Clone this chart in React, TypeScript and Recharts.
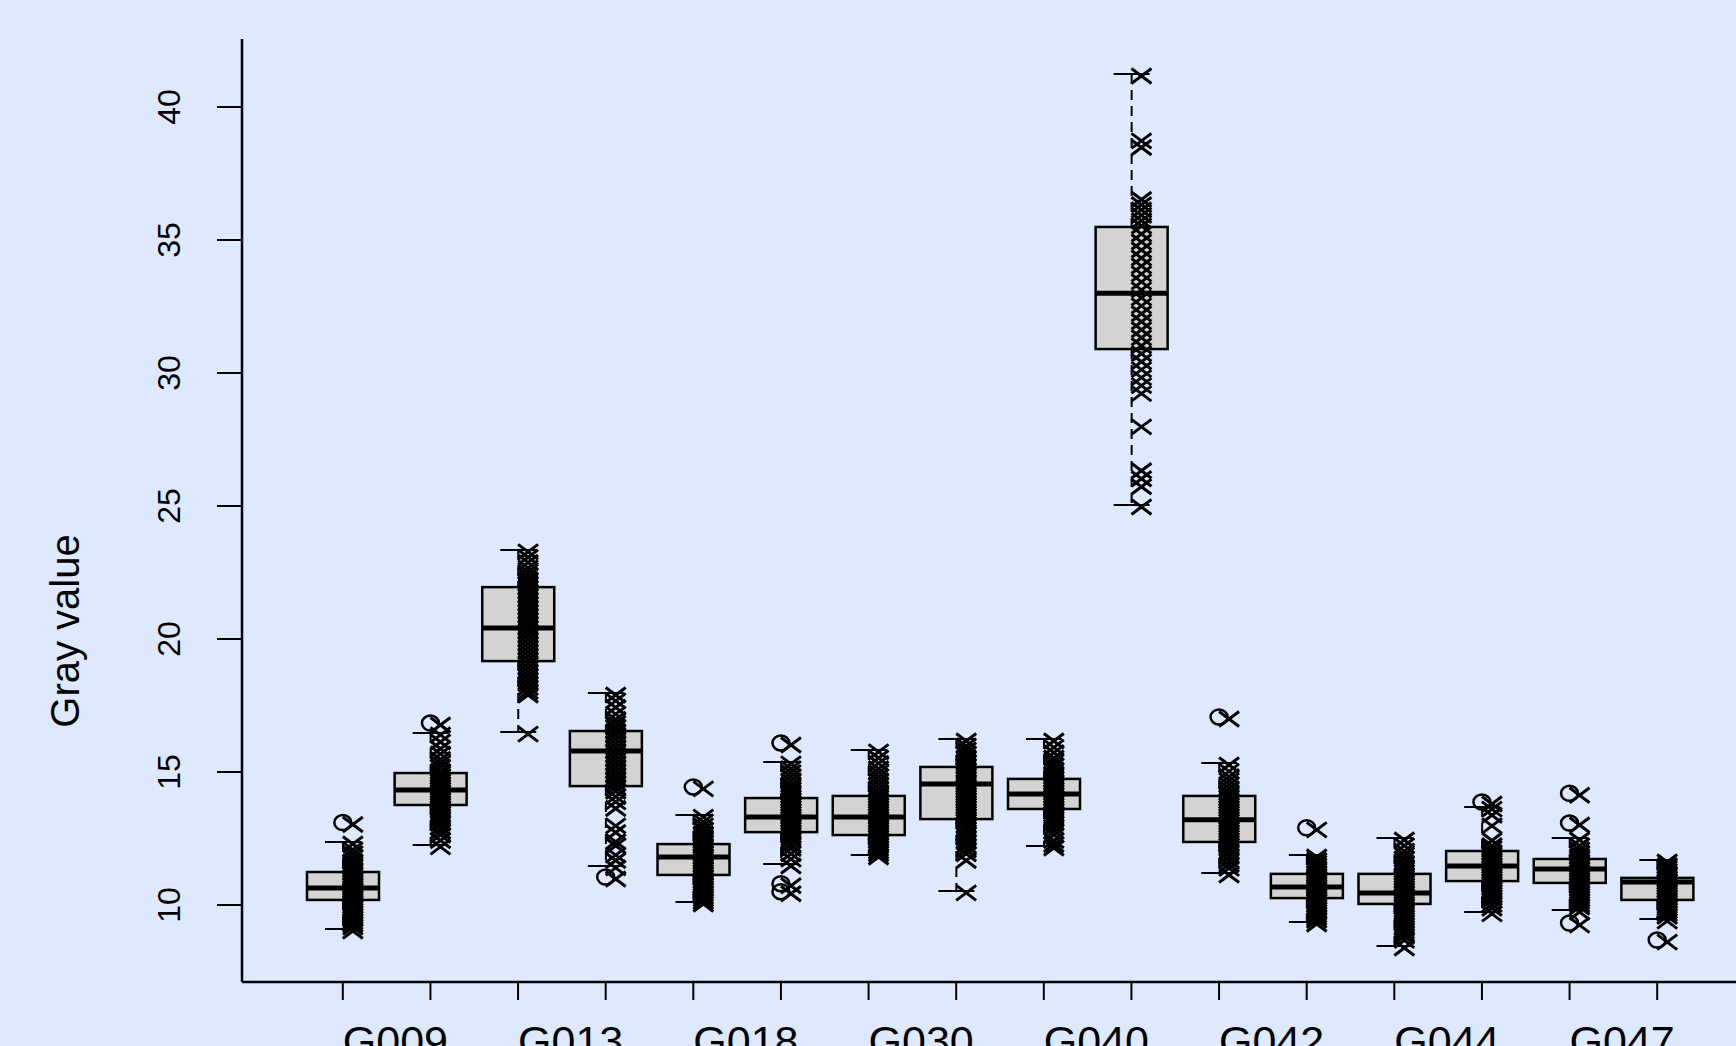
import { ComposedChart, Bar, Scatter, XAxis, YAxis } from "recharts";

// groups in plotting order (only every other name is printed on the axis)
const groups = [
  "G009", "G010", "G013", "G014", "G018", "G019", "G030", "G031",
  "G040", "G041", "G042", "G043", "G044", "G045", "G047", "G048",
];
const shownLabels = ["G009", "G013", "G018", "G030", "G040", "G042", "G044", "G047"];

// box statistics
const whiskerLow = [9.1, 12.26, 16.5, 11.47, 10.11, 11.54, 11.88, 10.53, 12.22, 25.04, 11.2, 9.36, 8.46, 9.74, 9.81, 9.47];
const lowerQuartile = [10.19, 13.76, 19.17, 14.47, 11.13, 12.74, 12.63, 13.23, 13.61, 30.9, 12.37, 10.26, 10.04, 10.9, 10.83, 10.19];
const medians = [10.64, 14.32, 20.41, 15.79, 11.8, 13.31, 13.31, 14.55, 14.17, 33.0, 13.2, 10.68, 10.45, 11.47, 11.35, 10.86];
const upperQuartile = [11.24, 14.96, 21.95, 16.54, 12.29, 14.02, 14.1, 15.19, 14.74, 35.49, 14.1, 11.17, 11.17, 12.03, 11.73, 11.02];
const whiskerHigh = [12.37, 16.47, 23.35, 17.97, 13.38, 15.38, 15.83, 16.24, 16.24, 41.24, 15.34, 11.88, 12.52, 13.68, 12.52, 11.69];

// outliers drawn by the boxplot (open circles)
const outliers: number[][] = [
  [13.1], [16.84], [], [11.05], [14.44], [16.09, 10.8, 10.5], [], [],
  [], [], [17.07], [12.9], [], [13.87], [14.2, 13.08, 9.32], [8.68],
];

// individual measurements (x markers)
const points: number[][] = [
  [13.1, 12.37, 12.15, 12.0, 11.85, 11.7, 11.6, 11.5, 11.4, 11.3, 11.2, 11.1, 11.0, 10.9, 10.8, 10.7, 10.62, 10.55, 10.45, 10.35, 10.25, 10.15, 10.05, 9.95, 9.85, 9.75, 9.65, 9.55, 9.45, 9.35, 9.25, 9.1],
  [16.84, 16.47, 16.2, 15.95, 15.75, 15.55, 15.4, 15.25, 15.1, 15.0, 14.9, 14.8, 14.7, 14.6, 14.5, 14.4, 14.3, 14.2, 14.1, 14.0, 13.9, 13.8, 13.7, 13.6, 13.5, 13.4, 13.3, 13.15, 13.0, 12.85, 12.7, 12.5, 12.26],
  [23.35, 23.15, 22.95, 22.75, 22.6, 22.45, 22.3, 22.15, 22.0, 21.85, 21.7, 21.55, 21.4, 21.25, 21.1, 20.95, 20.8, 20.65, 20.5, 20.35, 20.2, 20.05, 19.9, 19.75, 19.6, 19.45, 19.3, 19.15, 19.0, 18.85, 18.7, 18.55, 18.4, 18.25, 18.1, 17.97, 16.5],
  [17.97, 17.75, 17.5, 17.25, 17.05, 16.9, 16.75, 16.6, 16.45, 16.3, 16.15, 16.0, 15.85, 15.7, 15.55, 15.4, 15.25, 15.1, 14.95, 14.8, 14.65, 14.5, 14.35, 14.15, 13.95, 13.7, 13.05, 12.8, 12.45, 12.3, 11.95, 11.75, 11.47, 11.05],
  [14.44, 13.38, 13.2, 13.05, 12.9, 12.75, 12.6, 12.5, 12.4, 12.3, 12.2, 12.1, 12.0, 11.9, 11.8, 11.7, 11.6, 11.5, 11.4, 11.3, 11.2, 11.1, 11.0, 10.9, 10.8, 10.7, 10.6, 10.5, 10.4, 10.3, 10.2, 10.11],
  [16.09, 15.38, 15.2, 15.05, 14.9, 14.75, 14.6, 14.5, 14.4, 14.3, 14.2, 14.1, 14.0, 13.9, 13.8, 13.7, 13.6, 13.5, 13.4, 13.3, 13.2, 13.1, 13.0, 12.9, 12.8, 12.7, 12.6, 12.5, 12.35, 12.2, 12.0, 11.8, 11.54, 10.8, 10.5],
  [15.83, 15.6, 15.4, 15.2, 15.05, 14.9, 14.75, 14.6, 14.45, 14.3, 14.2, 14.1, 14.0, 13.9, 13.8, 13.7, 13.6, 13.5, 13.4, 13.3, 13.2, 13.1, 13.0, 12.9, 12.8, 12.7, 12.6, 12.5, 12.4, 12.3, 12.2, 12.1, 12.0, 11.88],
  [16.24, 16.05, 15.9, 15.75, 15.6, 15.45, 15.3, 15.15, 15.0, 14.9, 14.8, 14.7, 14.6, 14.5, 14.4, 14.3, 14.2, 14.1, 14.0, 13.9, 13.8, 13.7, 13.6, 13.5, 13.4, 13.3, 13.2, 13.05, 12.9, 12.75, 12.6, 12.45, 12.3, 12.15, 12.0, 11.75, 10.53],
  [16.24, 16.0, 15.8, 15.6, 15.45, 15.3, 15.15, 15.0, 14.9, 14.8, 14.7, 14.6, 14.5, 14.4, 14.3, 14.2, 14.1, 14.0, 13.9, 13.8, 13.7, 13.6, 13.5, 13.4, 13.3, 13.15, 13.0, 12.85, 12.7, 12.5, 12.35, 12.22],
  [41.24, 38.8, 38.55, 36.6, 36.4, 36.2, 36.0, 35.8, 35.6, 35.3, 35.0, 34.7, 34.4, 34.1, 33.8, 33.5, 33.2, 32.9, 32.6, 32.3, 32.0, 31.7, 31.4, 31.1, 30.8, 30.5, 30.2, 29.9, 29.6, 29.3, 28.05, 26.4, 26.1, 25.8, 25.04],
  [17.07, 15.34, 15.1, 14.9, 14.75, 14.6, 14.45, 14.3, 14.2, 14.1, 14.0, 13.9, 13.8, 13.7, 13.6, 13.5, 13.4, 13.3, 13.2, 13.1, 13.0, 12.9, 12.8, 12.7, 12.6, 12.5, 12.4, 12.3, 12.2, 12.05, 11.9, 11.75, 11.6, 11.45, 11.2],
  [12.9, 11.88, 11.75, 11.65, 11.55, 11.45, 11.35, 11.25, 11.15, 11.05, 10.95, 10.85, 10.75, 10.68, 10.6, 10.5, 10.4, 10.3, 10.2, 10.1, 10.0, 9.9, 9.8, 9.7, 9.6, 9.5, 9.36],
  [12.52, 12.3, 12.1, 11.95, 11.8, 11.65, 11.5, 11.4, 11.3, 11.2, 11.1, 11.0, 10.9, 10.8, 10.7, 10.6, 10.5, 10.4, 10.3, 10.2, 10.1, 10.0, 9.9, 9.8, 9.7, 9.6, 9.5, 9.4, 9.3, 9.2, 9.1, 9.0, 8.9, 8.75, 8.46],
  [13.87, 13.68, 13.45, 13.05, 12.5, 12.3, 12.2, 12.05, 11.95, 11.85, 11.75, 11.65, 11.55, 11.45, 11.35, 11.25, 11.15, 11.05, 10.95, 10.85, 10.75, 10.65, 10.55, 10.45, 10.35, 10.25, 10.1, 9.95, 9.74],
  [14.2, 13.08, 12.52, 12.3, 12.15, 12.0, 11.9, 11.8, 11.7, 11.6, 11.5, 11.4, 11.3, 11.2, 11.1, 11.0, 10.9, 10.8, 10.7, 10.6, 10.5, 10.4, 10.3, 10.2, 10.1, 10.0, 9.81, 9.32],
  [11.69, 11.55, 11.45, 11.35, 11.25, 11.15, 11.05, 10.95, 10.85, 10.75, 10.65, 10.55, 10.45, 10.35, 10.25, 10.15, 10.05, 9.95, 9.85, 9.75, 9.65, 9.47, 8.68],
];

const yTicks = [10, 15, 20, 25, 30, 35, 40];

const boxData = groups.map((name, i) => ({
  name,
  range: [whiskerLow[i], whiskerHigh[i]],
  lo: whiskerLow[i],
  q1: lowerQuartile[i],
  med: medians[i],
  q3: upperQuartile[i],
  hi: whiskerHigh[i],
}));
const pointData = groups.flatMap((name, i) => points[i].map((value) => ({ name, value })));
const outlierData = groups.flatMap((name, i) => outliers[i].map((value) => ({ name, value })));

const FONT = "'Liberation Sans', Arial, Helvetica, sans-serif";

function BoxShape(props: any) {
  const { x, y, width, height, payload } = props;
  const top = Math.min(y, y + height);
  const bottom = Math.max(y, y + height);
  const { lo, q1, med, q3, hi } = payload;
  // linear map inside the whisker range that the bar already scaled
  const toPx = (v: number) => top + ((hi - v) / (hi - lo)) * (bottom - top);
  const cx = x + width / 2;
  const staple = width / 4;
  return (
    <g>
      <line x1={cx} x2={cx} y1={toPx(hi)} y2={toPx(q3)} stroke="#000" strokeWidth={2} strokeDasharray="10 6" />
      <line x1={cx} x2={cx} y1={toPx(q1)} y2={toPx(lo)} stroke="#000" strokeWidth={2} strokeDasharray="10 6" />
      <line x1={cx - staple} x2={cx + staple} y1={toPx(hi)} y2={toPx(hi)} stroke="#000" strokeWidth={2} />
      <line x1={cx - staple} x2={cx + staple} y1={toPx(lo)} y2={toPx(lo)} stroke="#000" strokeWidth={2} />
      <rect x={x} y={toPx(q3)} width={width} height={toPx(q1) - toPx(q3)} fill="#d3d3d3" stroke="#000" strokeWidth={2.5} />
      <line x1={x} x2={x + width} y1={toPx(med)} y2={toPx(med)} stroke="#000" strokeWidth={5} />
    </g>
  );
}

function CrossMark(props: any) {
  const { cx, cy } = props;
  if (cx == null || cy == null) return null;
  const px = cx + 10;
  const py = cy + 2;
  return (
    <g>
      <line x1={px - 10} y1={py - 7.5} x2={px + 10} y2={py + 7.5} stroke="#000" strokeWidth={3} />
      <line x1={px - 10} y1={py + 7.5} x2={px + 10} y2={py - 7.5} stroke="#000" strokeWidth={3} />
    </g>
  );
}

function CircleMark(props: any) {
  const { cx, cy } = props;
  if (cx == null || cy == null) return null;
  return <ellipse cx={cx} cy={cy} rx={8.5} ry={7.5} fill="none" stroke="#000" strokeWidth={2.5} />;
}

function YTick(props: any) {
  const { x, y, payload } = props;
  return (
    <text x={x} y={y} transform={`rotate(-90, ${x}, ${y})`} textAnchor="middle" fontSize={32} fontFamily={FONT} fill="#000">
      {payload.value}
    </text>
  );
}

function XTick(props: any) {
  const { x, y, payload } = props;
  if (!shownLabels.includes(payload.value)) return null;
  return (
    <text x={x} y={y} dy={54} textAnchor="start" fontSize={43} fontFamily={FONT} fill="#000">
      {payload.value}
    </text>
  );
}

function YLabel(props: any) {
  const vb = props.viewBox || { x: 0, y: 39, width: 242, height: 943 };
  const lx = vb.x + 79;
  const ly = vb.y + 592;
  return (
    <text x={lx} y={ly} transform={`rotate(-90, ${lx}, ${ly})`} textAnchor="middle" fontSize={40} fontFamily={FONT} fill="#000">
      Gray value
    </text>
  );
}

export default function App() {
  return (
    <div
      style={{
        position: "fixed",
        left: 0,
        top: 0,
        width: 1736,
        height: 1046,
        overflow: "hidden",
        background: "#dee8fe",
      }}
    >
      <ComposedChart width={1778} height={1100} data={boxData} margin={{ top: 39, right: 20, bottom: 38, left: 0 }}>
        <XAxis
          dataKey="name"
          type="category"
          allowDuplicatedCategory={false}
          interval={0}
          padding={{ left: 57, right: 57 }}
          height={80}
          tickSize={18}
          tickMargin={2}
          tick={<XTick />}
          tickLine={{ stroke: "#000", strokeWidth: 2 }}
          axisLine={{ stroke: "#000", strokeWidth: 2.5 }}
        />
        <XAxis
          xAxisId="top"
          orientation="top"
          dataKey="name"
          type="category"
          allowDuplicatedCategory={false}
          height={0}
          tick={false}
          tickLine={false}
          axisLine={{ stroke: "#000", strokeWidth: 2.5 }}
        />
        <YAxis
          type="number"
          domain={[7.105, 42.556]}
          ticks={yTicks}
          width={242}
          tickSize={25}
          tickMargin={37}
          tick={<YTick />}
          tickLine={{ stroke: "#000", strokeWidth: 2 }}
          axisLine={{ stroke: "#000", strokeWidth: 2.5 }}
          label={<YLabel />}
        />
        <Bar dataKey="range" barSize={72} shape={<BoxShape />} isAnimationActive={false} />
        <Scatter data={outlierData} dataKey="value" shape={<CircleMark />} isAnimationActive={false} />
        <Scatter data={pointData} dataKey="value" shape={<CrossMark />} isAnimationActive={false} />
      </ComposedChart>
    </div>
  );
}
